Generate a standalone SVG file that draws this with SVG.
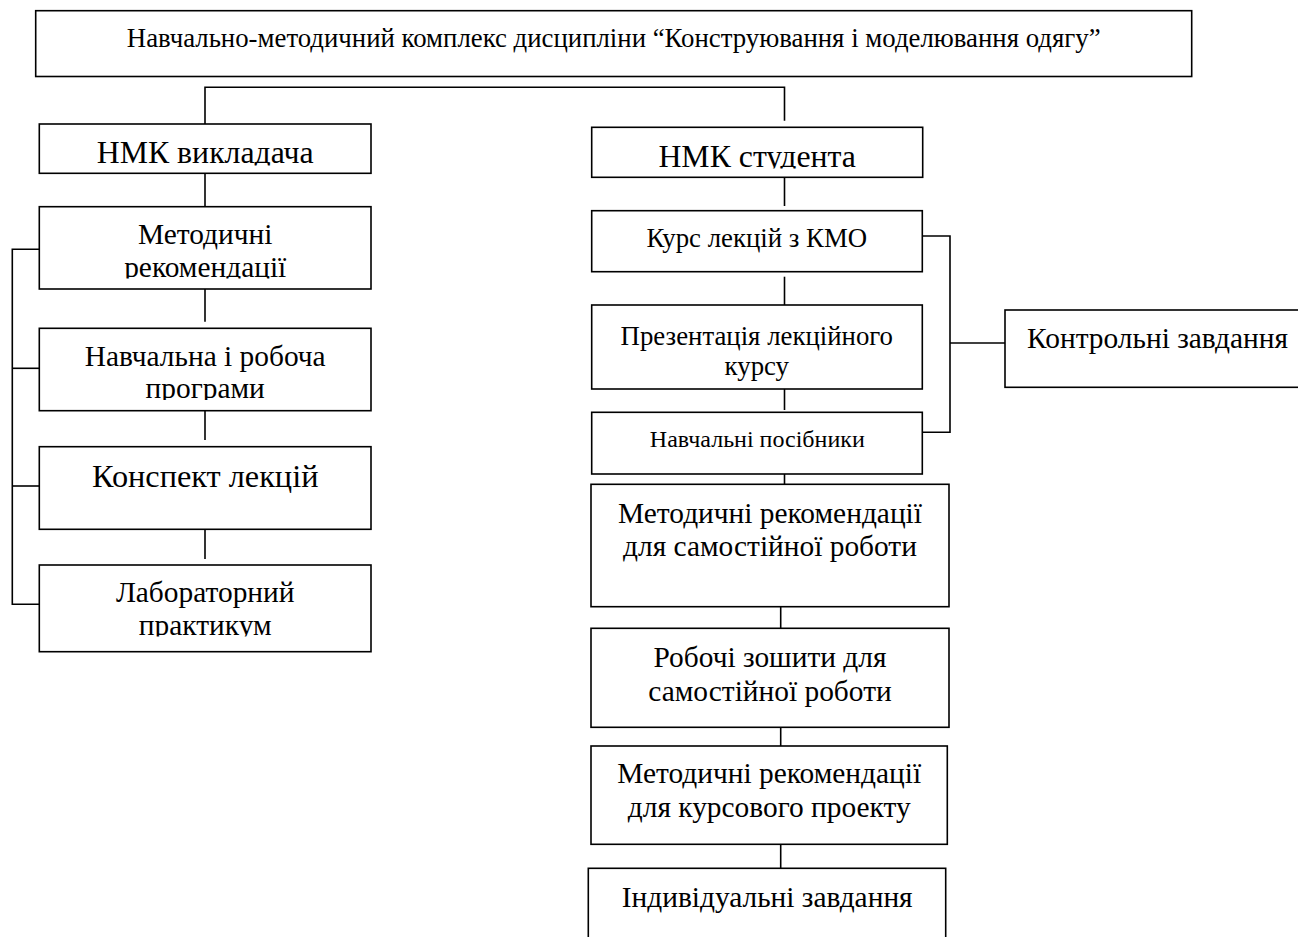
<svg xmlns="http://www.w3.org/2000/svg" width="1298" height="937" viewBox="0 0 1298 937">
<style>
  .box { fill: #fff; stroke: #000; stroke-width: 1.6; }
  .ln { fill: none; stroke: #000; stroke-width: 1.6; }
  text { font-family: "Liberation Serif", "Times New Roman", serif; fill: #000; text-anchor: middle; }
  .t24 { font-size: 24px; }
  .t265 { font-size: 26.8px; }
  .t29 { font-size: 29.4px; }
  .t31 { font-size: 31.8px; }
  .t32 { font-size: 32.3px; }
</style>
<defs>
  <clipPath id="c-vykl" clipPathUnits="userSpaceOnUse"><rect x="40" y="125" width="330" height="40.5"/></clipPath>
  <clipPath id="c-stud" clipPathUnits="userSpaceOnUse"><rect x="592" y="128" width="330" height="40.5"/></clipPath>
  <clipPath id="c-rek" clipPathUnits="userSpaceOnUse"><rect x="40" y="207" width="330" height="71.5"/></clipPath>
  <clipPath id="c-prog" clipPathUnits="userSpaceOnUse"><rect x="40" y="329" width="330" height="71"/></clipPath>
  <clipPath id="c-prak" clipPathUnits="userSpaceOnUse"><rect x="40" y="566" width="330" height="70.5"/></clipPath>
</defs>

<g id="connectors">
  <polyline class="ln" points="205,124 205,87.3 784.5,87.3 784.5,120.7"/>
  <line class="ln" x1="205" y1="173.3" x2="205" y2="206.7"/>
  <line class="ln" x1="205" y1="289" x2="205" y2="321.7"/>
  <line class="ln" x1="205" y1="407" x2="205" y2="440"/>
  <line class="ln" x1="205" y1="525" x2="205" y2="559"/>
  <polyline class="ln" points="39.3,249.3 12.3,249.3 12.3,604.3 39.3,604.3"/>
  <line class="ln" x1="12.3" y1="368.3" x2="39.3" y2="368.3"/>
  <line class="ln" x1="12.3" y1="486" x2="39.3" y2="486"/>
  <line class="ln" x1="784.5" y1="177.3" x2="784.5" y2="206"/>
  <line class="ln" x1="784.5" y1="276.7" x2="784.5" y2="305"/>
  <line class="ln" x1="784.5" y1="389" x2="784.5" y2="410"/>
  <line class="ln" x1="784.5" y1="474" x2="784.5" y2="484.3"/>
  <polyline class="ln" points="922.3,236 950,236 950,432.3 922.3,432.3"/>
  <line class="ln" x1="950" y1="343" x2="1005" y2="343"/>
  <line class="ln" x1="780.7" y1="605" x2="780.7" y2="628.3"/>
  <line class="ln" x1="780.7" y1="725" x2="780.7" y2="746"/>
  <line class="ln" x1="780.7" y1="844.3" x2="780.7" y2="868.3"/>
</g>

<g id="node-top">
  <rect class="box" x="35.7" y="10.7" width="1156" height="65.8"/>
  <text class="t265" x="613.7" y="46.7">Навчально-методичний комплекс дисципліни “Конструювання і моделювання одягу”</text>
</g>

<g id="node-nmk-vykladacha">
  <rect class="box" x="39.3" y="124" width="331.7" height="49.3"/>
  <text class="t31" x="205.2" y="163.3" clip-path="url(#c-vykl)">НМК викладача</text>
</g>
<g id="node-metod-rek">
  <rect class="box" x="39.3" y="206.7" width="331.7" height="82.3"/>
  <text class="t29" x="205.2" y="244.3">Методичні</text>
  <text class="t29" x="205.2" y="276.7" clip-path="url(#c-rek)">рекомендації</text>
</g>
<g id="node-programy">
  <rect class="box" x="39.3" y="328.3" width="331.7" height="82.4"/>
  <text class="t29" x="205.2" y="365.7">Навчальна і робоча</text>
  <text class="t29" x="205.2" y="398.3" clip-path="url(#c-prog)">програми</text>
</g>
<g id="node-konspekt">
  <rect class="box" x="39.3" y="446.7" width="331.7" height="82.6"/>
  <text class="t32" x="205.2" y="486.7">Конспект лекцій</text>
</g>
<g id="node-laborator">
  <rect class="box" x="39.3" y="565" width="331.7" height="86.7"/>
  <text class="t29" x="205.2" y="601.7">Лабораторний</text>
  <text class="t29" x="205.2" y="635" clip-path="url(#c-prak)">практикум</text>
</g>

<g id="node-nmk-studenta">
  <rect class="box" x="591.7" y="127.3" width="331" height="50"/>
  <text class="t31" x="757.2" y="166.7" clip-path="url(#c-stud)">НМК студента</text>
</g>
<g id="node-kurs">
  <rect class="box" x="591.7" y="210.7" width="330.6" height="61"/>
  <text class="t265" x="756.8" y="246.7">Курс лекцій з КМО</text>
</g>
<g id="node-prezentacia">
  <rect class="box" x="591.7" y="305" width="330.6" height="84"/>
  <text class="t265" x="756.8" y="345">Презентація лекційного</text>
  <text class="t265" x="756.8" y="375">курсу</text>
</g>
<g id="node-posibnyky">
  <rect class="box" x="591.7" y="412.3" width="330.6" height="61.7"/>
  <text class="t24" x="757.3" y="446.7">Навчальні посібники</text>
</g>
<g id="node-kontrolni">
  <rect class="box" x="1005" y="310" width="310" height="77.3"/>
  <text class="t29" x="1157.5" y="348.3">Контрольні завдання</text>
</g>
<g id="node-samost">
  <rect class="box" x="591" y="484.3" width="358" height="122.4"/>
  <text class="t29" x="770" y="522.7">Методичні рекомендації</text>
  <text class="t29" x="770" y="556">для самостійної роботи</text>
</g>
<g id="node-zoshyty">
  <rect class="box" x="591" y="628.3" width="358" height="99"/>
  <text class="t29" x="770" y="667">Робочі зошити для</text>
  <text class="t29" x="770" y="700.5">самостійної роботи</text>
</g>
<g id="node-kursovyi">
  <rect class="box" x="591" y="746" width="356.3" height="98.3"/>
  <text class="t29" x="769.2" y="783">Методичні рекомендації</text>
  <text class="t29" x="769.2" y="816.7">для курсового проекту</text>
</g>
<g id="node-indyvidualni">
  <rect class="box" x="588.3" y="868.3" width="357.4" height="90"/>
  <text class="t29" x="767.2" y="906.7">Індивідуальні завдання</text>
</g>
</svg>
